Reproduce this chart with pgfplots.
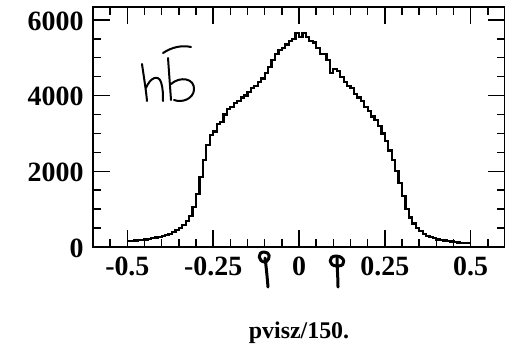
\documentclass[border=0pt]{standalone}
\usepackage{fontspec}
\setmainfont{Liberation Serif}
\usepackage{pgfplots}
\pgfplotsset{compat=1.18}
\usepackage{pgfplotstable}

% pvisz/150 distribution for the h bbar sample, bins of 0.01 (left edges)
\pgfplotstableread{
x y
-0.50 150
-0.49 160
-0.48 170
-0.47 180
-0.46 190
-0.45 200
-0.44 215
-0.43 230
-0.42 250
-0.41 270
-0.40 290
-0.39 320
-0.38 350
-0.37 390
-0.36 440
-0.35 500
-0.34 580
-0.33 680
-0.32 820
-0.31 1050
-0.30 1400
-0.29 1850
-0.28 2300
-0.27 2700
-0.26 2950
-0.25 3050
-0.24 3250
-0.23 3300
-0.22 3500
-0.21 3650
-0.20 3700
-0.19 3800
-0.18 3850
-0.17 3950
-0.16 4000
-0.15 4100
-0.14 4200
-0.13 4250
-0.12 4350
-0.11 4450
-0.10 4600
-0.09 4750
-0.08 4950
-0.07 5100
-0.06 5200
-0.05 5250
-0.04 5350
-0.03 5450
-0.02 5500
-0.01 5650
0.00 5550
0.01 5650
0.02 5550
0.03 5450
0.04 5400
0.05 5250
0.06 5100
0.07 5100
0.08 4950
0.09 4600
0.10 4700
0.11 4650
0.12 4500
0.13 4350
0.14 4250
0.15 4200
0.16 4050
0.17 3950
0.18 3850
0.19 3700
0.20 3600
0.21 3450
0.22 3350
0.23 3200
0.24 3000
0.25 2800
0.26 2550
0.27 2300
0.28 2000
0.29 1700
0.30 1350
0.31 1000
0.32 780
0.33 620
0.34 500
0.35 420
0.36 350
0.37 300
0.38 260
0.39 230
0.40 200
0.41 185
0.42 170
0.43 155
0.44 145
0.45 130
0.46 120
0.47 110
0.48 105
0.49 100
0.50 100
}\hbbar

\begin{document}
\begin{tikzpicture}[x=1bp,y=1bp]
\path[use as bounding box] (0,0) rectangle (505,-345);
\begin{axis}[
  at={(93bp,-247bp)}, anchor=south west,
  scale only axis, width=412bp, height=240bp,
  xmin=-0.6, xmax=0.6, ymin=0, ymax=6340,
  axis line style={line width=2.6bp},
  tick align=inside,
  tick style={line width=1.5bp, black},
  major tick length=17bp, minor tick length=8bp,
  xtick={-0.5,-0.25,0,0.25,0.5},
  xticklabels={-0.5,-0.25,0,0.25,0.5},
  minor xtick={-0.55,-0.45,-0.4,-0.35,-0.3,-0.2,-0.15,-0.1,-0.05,0.05,0.1,0.15,0.2,0.3,0.35,0.4,0.45,0.55},
  ytick={0,2000,4000,6000},
  yticklabels={0,2000,4000,6000},
  minor ytick={500,1000,1500,2500,3000,3500,4500,5000,5500},
  ticklabel style={font=\fontsize{28}{28}\selectfont\bfseries},
  xticklabel style={yshift=-6bp},
  yticklabel style={xshift=-6bp, yshift=-1bp},
  xlabel={pvisz/150.},
  xlabel style={font=\fontsize{24}{24}\selectfont\bfseries, yshift=-40bp},
  clip=false,
]
\addplot[const plot mark left, line width=2.2bp, black] table {\hbbar};
\end{axis}
% hand-written annotation: h bbar
\begin{scope}[line width=2bp, line cap=round, line join=round, yscale=-1]
  \draw (142,64) .. controls (144,78) and (146,90) .. (147,101);
  \draw (146,88) .. controls (150,78) and (158,74) .. (161,82) .. controls (163,88) and (163,95) .. (163,101);
  \draw (168,58) .. controls (169,72) and (170,86) .. (171,100);
  \draw (171,84) .. controls (180,76) and (195,78) .. (194,90) .. controls (193,99) and (182,103) .. (174,100);
  \draw (163,53) .. controls (172,47) and (182,45) .. (191,47);
\end{scope}
% cut markers drawn under the axis
\begin{scope}[line width=3bp, line cap=round, line join=round, yscale=-1]
  \draw (268,287) .. controls (267,275) and (266,265) .. (265,258);
  \draw (265,262) .. controls (258,262) and (257,252) .. (264,252) .. controls (270,252) and (271,258) .. (266,262);
  \draw (338,287) .. controls (338,277) and (337,268) .. (337,258);
  \draw (337,266) .. controls (328,266) and (328,256) .. (336,256) .. controls (345,256) and (347,266) .. (338,266);
\end{scope}
\end{tikzpicture}
\end{document}
